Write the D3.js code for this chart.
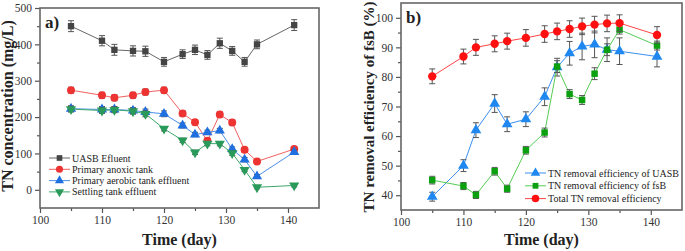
<!DOCTYPE html>
<html lang="en">
<head>
<meta charset="UTF-8"/>
<title>TN concentration and removal efficiency</title>
<script src="https://d3js.org/d3.v7.min.js"></script>
<style>
	body{margin:0;background:#fff;}
	svg text{font-family:"Liberation Serif","Times New Roman",serif;fill:#222;}
	.title{font-size:16px;font-weight:bold;}
	.leg{font-size:10px;}
</style>
</head>
<body>
<script>

// sampling days (both panels)
var days=[105,110,112,115,117,120,123,125,127,129,131,133,135,141];

// panel a) TN concentration (mg/L)
var uasb=[450,410,385,382,381,352,373,385,371,403,382,352,400,453];
var uasbErr=[15,14,15,14,14,12,12,13,12,14,12,12,12,15];
var anoxic=[274,260,253,260,269,274,210,186,135,207,185,110,78,112];
var anoxicErr=[8,8,8,8,8,8,7,7,7,7,7,6,6,6];
var aerobic=[223,221,221,218,214,209,177,152,158,163,112,83,37,104];
var aerobicErr=[8,8,8,8,8,8,7,6,6,6,6,6,5,6];
var settling=[222,218,220,216,209,168,136,103,127,127,101,55,7,12];
var settlingErr=[8,8,8,8,8,6,6,6,6,6,6,5,4,4];
var legendA=["UASB Efluent","Primary anoxic tank","Primary  aerobic tank effluent","Settling tank effluent"];

// panel b) removal efficiency (%)
var effUasb=[39.5,50,62,71,64,65.7,73.3,83.3,88,90.3,91,89.2,88.7,86.9];
var effUasbErr=[1.5,2,2.5,3,2.5,2.5,3,3,4,4.5,4.5,4,4.5,3.5];
var effFsb=[45.1,43.1,40.1,48.1,42.2,55.2,61.2,83.5,74.2,72.2,81.1,89.2,96,90.6];
var effFsbErr=[1.3,1.2,1.2,1.3,1.2,1.3,1.5,2,1.5,1.5,2,2,1.5,1.5];
var effTotal=[80.2,86.9,90,91.2,92.1,93.2,94.5,95.4,96.2,97.1,97.7,98.1,98.2,94.2];
var effTotalErr=[2.5,2.5,2.7,2.7,2.7,2.8,2.8,2.8,2.8,2.8,2.8,2.8,2.8,2.8];
var legendB=["TN removal efficiency of UASB","TN removal efficiency of fsB","Total TN removal efficiency"];

var w=685, h=251;

var svg=d3.select("body").append("svg")
	.attr("width",w)
	.attr("height",h);

function styleAxis(s){
	s.select(".domain").remove();
	s.selectAll("line").attr("stroke","#555").attr("stroke-width",1.2);
	s.selectAll("text")
		.style("font-family","'Liberation Serif','Times New Roman',serif")
		.style("font-size","11.5px")
		.style("fill","#333");
}

function drawPanel(cfg){
	var x=d3.scaleLinear().domain([100,145]).range([cfg.left,cfg.right]);
	var y=d3.scaleLinear().domain(cfg.yDomain).range([cfg.bottom,cfg.top]);
	var g=svg.append("g");

	// minor ticks
	g.append("g")
		.attr("transform","translate(0,"+cfg.bottom+")")
		.call(d3.axisBottom(x).tickValues(d3.range(105,145,10)).tickSize(3).tickFormat(""))
		.call(styleAxis);
	g.append("g")
		.attr("transform","translate("+cfg.left+",0)")
		.call(d3.axisLeft(y).tickValues(cfg.minor).tickSize(3).tickFormat(""))
		.call(styleAxis);

	g.append("g")
		.attr("transform","translate(0,"+cfg.bottom+")")
		.call(d3.axisBottom(x).tickValues([100,110,120,130,140]).tickSize(5).tickSizeOuter(0))
		.call(styleAxis);
	g.append("g")
		.attr("transform","translate("+cfg.left+",0)")
		.call(d3.axisLeft(y).tickValues(cfg.major).tickSize(5).tickSizeOuter(0))
		.call(styleAxis);

	// frame
	g.append("rect")
		.attr("x",cfg.left).attr("y",cfg.top)
		.attr("width",cfg.right-cfg.left).attr("height",cfg.bottom-cfg.top)
		.attr("fill","none").attr("stroke","#666").attr("stroke-width",1.6);

	cfg.series.forEach(function(s){
		var pts=days.map(function(d,i){return {d:d,v:s.values[i],e:s.err[i]};});
		var sg=g.append("g");
		sg.append("path")
			.datum(pts)
			.attr("fill","none")
			.attr("stroke",s.line)
			.attr("stroke-width",1)
			.attr("d",d3.line().x(function(p){return x(p.d);}).y(function(p){return y(p.v);}));
		var eb=sg.selectAll("g.eb").data(pts).enter().append("g").attr("class","eb")
			.attr("stroke",cfg.errColor).attr("stroke-width",1);
		eb.append("line")
			.attr("x1",function(p){return x(p.d);}).attr("x2",function(p){return x(p.d);})
			.attr("y1",function(p){return y(p.v+p.e);}).attr("y2",function(p){return y(p.v-p.e);});
		eb.append("line")
			.attr("x1",function(p){return x(p.d)-3;}).attr("x2",function(p){return x(p.d)+3;})
			.attr("y1",function(p){return y(p.v+p.e);}).attr("y2",function(p){return y(p.v+p.e);});
		eb.append("line")
			.attr("x1",function(p){return x(p.d)-3;}).attr("x2",function(p){return x(p.d)+3;})
			.attr("y1",function(p){return y(p.v-p.e);}).attr("y2",function(p){return y(p.v-p.e);});
		sg.selectAll("path.mk").data(pts).enter().append("path").attr("class","mk")
			.attr("transform",function(p){return "translate("+x(p.d)+","+y(p.v)+")"+(s.flip?" rotate(180)":"");})
			.attr("d",d3.symbol().type(s.shape).size(s.size))
			.attr("fill",s.fill);
	});

	// legend
	cfg.series.forEach(function(s){
		var ly=cfg.legY+s.legIdx*cfg.legStep;
		var lg=svg.append("g");
		lg.append("line").attr("x1",cfg.legX).attr("x2",cfg.legX+21).attr("y1",ly).attr("y2",ly)
			.attr("stroke",s.line).attr("stroke-width",1);
		lg.append("path")
			.attr("transform","translate("+(cfg.legX+10.5)+","+ly+")"+(s.flip?" rotate(180)":""))
			.attr("d",d3.symbol().type(s.shape).size(s.size*0.8))
			.attr("fill",s.fill);
		lg.append("text").attr("class","leg").attr("x",cfg.legX+23).attr("y",ly).attr("dy","0.35em")
			.text(s.label);
	});

	svg.append("text").attr("class","title")
		.attr("x",(cfg.left+cfg.right)/2).attr("y",245)
		.style("text-anchor","middle").text("Time (day)");
	svg.append("text").attr("class","title")
		.style("font-size",cfg.yTitleSize)
		.attr("transform","rotate(-90)")
		.attr("x",-cfg.yTitleY).attr("y",cfg.yTitleX)
		.style("text-anchor","middle").text(cfg.yTitle);
	svg.append("text").attr("class","title").style("font-size","17px")
		.attr("x",cfg.left+5).attr("y",cfg.top+20).text(cfg.tag);
}

drawPanel({
	left:40,right:319,top:8,bottom:208,
	yDomain:[-50,500],major:[0,100,200,300,400,500],minor:[50,150,250,350,450],
	errColor:"#555",
	legX:49,legY:158,legStep:11.3,
	yTitle:"TN concentration (mg/L)",yTitleX:13,yTitleY:106,yTitleSize:"16px",tag:"a)",
	series:[
		{values:uasb,err:uasbErr,line:"#666",fill:"#444",shape:d3.symbolSquare,size:40,label:legendA[0],legIdx:0},
		{values:anoxic,err:anoxicErr,line:"#f06060",fill:"#ee3333",shape:d3.symbolCircle,size:50,label:legendA[1],legIdx:1},
		{values:aerobic,err:aerobicErr,line:"#4a8ee8",fill:"#1f6fe0",shape:d3.symbolTriangle,size:45,label:legendA[2],legIdx:2},
		{values:settling,err:settlingErr,line:"#3caa6a",fill:"#2a9a5a",shape:d3.symbolTriangle,size:45,flip:true,label:legendA[3],legIdx:3}
	]
});

drawPanel({
	left:401,right:682,top:3,bottom:210,
	yDomain:[35,105],major:[40,50,60,70,80,90,100],minor:[45,55,65,75,85,95],
	errColor:"#555",
	legX:525,legY:173,legStep:12.8,
	yTitle:"TN removal efficiency of fsB (%)",yTitleX:374,yTitleY:107,yTitleSize:"15px",tag:"b)",
	series:[
		{values:effUasb,err:effUasbErr,line:"#3b8ff0",fill:"#1e88f0",shape:d3.symbolTriangle,size:50,label:legendB[0],legIdx:0},
		{values:effFsb,err:effFsbErr,line:"#55cc55",fill:"#0aa010",shape:d3.symbolSquare,size:42,label:legendB[1],legIdx:1},
		{values:effTotal,err:effTotalErr,line:"#ff4444",fill:"#ff1010",shape:d3.symbolCircle,size:55,label:legendB[2],legIdx:2}
	]
});

</script>
</body>
</html>
